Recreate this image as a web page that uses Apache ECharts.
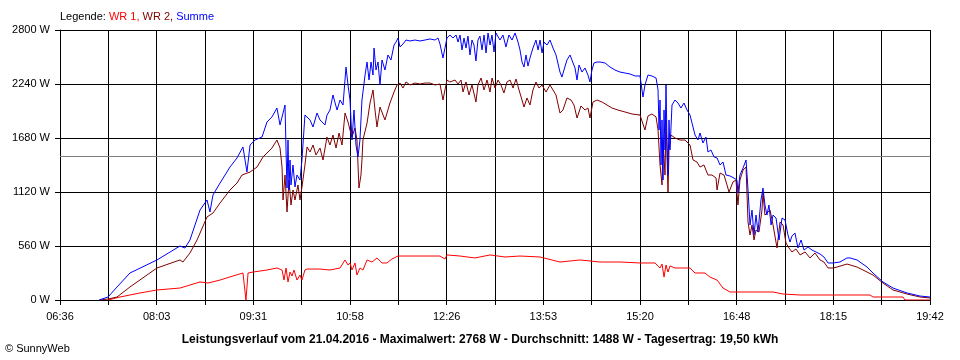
<!DOCTYPE html>
<html>
<head>
<meta charset="utf-8">
<script src="https://cdn.jsdelivr.net/npm/echarts@6/dist/echarts.min.js"></script>
<style>
html,body{margin:0;padding:0;background:#fff;}
#chart{width:960px;height:360px;}
</style>
</head>
<body>
<div id="chart"></div>
<script>
// Time axis: minutes after 06:36 (span 06:36 .. 19:42 = 786 min, 18 grid steps)
var xSpan = 786;
var xSteps = 18;
var xLabels = ['06:36','08:03','09:31','10:58','12:26','13:53','15:20','16:48','18:15','19:42'];
var yMax = 2800;
var yStep = 560;
var average = 1488;

// [minutes after 06:36, W]
var wr1 = [[43.4,0],[54.2,31],[72.3,73],[87.6,104],[108.4,124],[126.5,187],[133.7,176],[144.6,207],[156.3,249],[165.3,280],[167.1,280],[168.0,0],[168.9,0],[169.9,280],[174.4,290],[187.0,311],[196.0,332],[200.6,311],[202.4,207],[204.2,332],[206.0,187],[207.8,290],[209.6,249],[211.4,311],[214.1,207],[216.8,259],[218.6,207],[221.3,311],[223.2,321],[234.9,321],[243.9,311],[253.0,332],[257.5,415],[260.2,363],[262.0,384],[263.8,311],[266.5,384],[268.3,259],[271.0,332],[273.7,311],[277.4,415],[281.9,394],[286.4,436],[290.9,384],[295.4,384],[299.9,425],[305.4,456],[325.2,456],[343.3,456],[347.8,425],[349.6,467],[361.4,456],[374.9,436],[388.5,467],[402.0,446],[415.6,456],[433.7,446],[451.7,394],[469.8,415],[487.9,394],[505.9,394],[524.0,384],[537.6,384],[542.1,332],[543.9,373],[545.7,238],[547.5,363],[549.3,290],[551.1,353],[555.6,332],[569.2,332],[573.7,280],[582.7,280],[587.2,238],[593.6,207],[599.0,124],[605.3,83],[629.7,83],[644.2,83],[653.2,62],[668.6,52],[731.8,52],[734.5,31],[761.6,31],[763.4,0],[786,0]];

var wr2 = [[36.1,0],[43.4,10],[51.5,31],[63.2,135],[87.6,332],[108.4,415],[111.1,394],[117.4,487],[123.8,622],[132.8,861],[138.2,902],[144.6,1006],[153.6,1141],[159.9,1213],[164.4,1296],[171.7,1327],[178.0,1379],[183.4,1483],[187.0,1524],[191.5,1576],[196.0,1659],[198.8,1576],[200.6,1379],[201.5,1037],[203.3,1296],[205.1,913],[206.9,1244],[208.7,985],[210.5,1141],[212.3,1037],[215.0,1193],[216.8,1037],[218.6,1172],[221.3,1400],[223.2,1587],[225.9,1535],[228.6,1607],[231.3,1504],[234.9,1576],[237.6,1452],[241.2,1690],[243.9,1607],[246.6,1711],[249.4,1576],[252.1,1732],[254.8,1607],[257.5,1939],[260.2,1846],[262.0,1763],[263.8,1690],[266.5,1784],[268.3,1659],[270.1,1161],[271.9,1296],[272.8,1452],[273.7,1659],[277.4,1835],[280.1,2043],[282.8,2178],[284.6,1970],[286.4,1794],[289.1,2001],[293.6,1867],[298.1,2043],[301.8,2157],[304.5,2230],[307.2,2250],[309.9,2198],[312.6,2261],[316.2,2230],[320.7,2250],[325.2,2240],[329.8,2250],[334.3,2250],[338.8,2230],[343.3,2240],[346.0,2074],[347.8,2178],[349.6,2281],[352.3,2261],[356.9,2281],[359.6,2240],[362.3,2281],[364.1,2157],[366.8,2261],[369.5,2126],[372.2,2230],[375.8,2053],[377.6,2230],[380.4,2302],[383.1,2178],[385.8,2281],[388.5,2157],[390.3,2302],[393.0,2198],[395.7,2281],[398.4,2230],[401.1,2147],[403.8,2261],[406.6,2281],[409.3,2198],[412.0,2292],[414.7,2178],[417.4,2074],[419.2,2001],[421.9,2095],[424.6,2022],[427.3,2178],[430.0,2261],[432.8,2198],[435.5,2230],[439.1,2157],[442.7,2230],[445.4,2178],[448.1,2126],[451.7,1939],[454.4,1970],[458.0,2095],[461.7,2074],[464.4,2022],[467.1,1887],[470.7,2012],[474.3,1970],[477.0,1991],[478.8,1887],[481.5,2053],[485.2,2074],[489.7,2053],[494.2,2022],[498.7,1991],[504.1,1970],[510.4,1950],[516.8,1929],[524.0,1918],[528.5,1763],[531.2,1908],[534.8,1929],[538.5,1898],[540.3,1763],[542.1,1400],[543.9,1193],[544.8,1659],[546.6,1296],[547.5,1867],[549.3,1120],[550.2,1556],[552.0,1711],[555.6,1680],[560.1,1659],[564.7,1659],[569.2,1607],[571.9,1452],[575.5,1431],[578.2,1379],[581.8,1400],[585.4,1296],[589.0,1296],[592.7,1265],[593.6,1141],[596.3,1317],[599.9,1296],[602.6,1193],[604.4,1120],[608.0,1224],[610.7,1244],[612.5,985],[614.3,1244],[617.1,1348],[619.8,1379],[621.6,809],[623.4,674],[625.2,778],[627.0,622],[628.8,726],[631.5,705],[634.2,933],[635.1,1110],[636.9,881],[638.7,861],[641.5,933],[644.2,778],[647.8,539],[650.5,809],[653.2,778],[655.9,591],[658.6,539],[661.3,498],[664.9,529],[668.6,467],[673.1,498],[677.6,436],[682.1,487],[686.6,415],[690.2,394],[693.9,332],[698.4,332],[702.0,342],[711.0,373],[720.1,342],[729.1,290],[734.5,259],[743.5,176],[752.6,104],[765.2,62],[777.0,31],[786.0,21]];

var summe = [[35.2,0],[43.4,31],[51.5,135],[63.2,280],[87.6,415],[108.4,560],[112.9,539],[117.4,622],[126.5,933],[132.8,1037],[135.5,913],[138.2,1089],[144.6,1213],[153.6,1379],[159.9,1473],[165.3,1587],[168.9,1327],[171.7,1607],[176.2,1659],[182.5,1690],[187.0,1846],[191.5,1898],[196.0,1991],[198.8,1815],[203.3,2022],[204.2,1556],[205.1,1161],[206.0,1659],[206.9,1141],[207.8,1452],[208.7,1193],[210.5,1400],[212.3,1172],[214.1,1296],[216.8,1244],[218.6,1452],[221.3,1918],[225.9,1867],[228.6,1794],[232.2,1939],[234.9,1867],[239.4,1815],[241.2,1918],[243.9,1970],[246.6,2126],[250.3,1970],[253.0,2074],[255.7,2022],[258.4,2416],[260.2,2230],[262.0,2074],[263.8,1659],[265.6,1970],[267.4,1607],[269.2,1483],[271.0,1659],[272.8,2074],[275.6,2333],[277.4,2468],[279.2,2281],[281.0,2468],[282.8,2333],[283.7,2613],[285.5,2385],[287.3,2468],[289.1,2230],[290.9,2489],[293.6,2385],[296.3,2541],[299.0,2489],[301.8,2644],[303.6,2675],[305.4,2717],[307.2,2624],[309.9,2655],[312.6,2696],[316.2,2686],[320.7,2696],[325.2,2686],[329.8,2696],[334.3,2707],[338.8,2696],[341.5,2717],[343.3,2655],[346.0,2510],[347.8,2613],[349.6,2717],[352.3,2748],[355.0,2717],[357.8,2748],[359.6,2675],[361.4,2748],[363.2,2593],[365.0,2717],[366.8,2613],[368.6,2737],[370.4,2541],[372.2,2696],[374.0,2644],[375.8,2479],[377.6,2696],[379.4,2737],[381.3,2593],[383.1,2748],[384.9,2562],[386.7,2769],[388.5,2644],[390.3,2748],[392.1,2572],[393.9,2769],[397.5,2696],[400.2,2748],[402.9,2624],[405.6,2748],[408.4,2696],[411.1,2769],[413.8,2675],[415.6,2593],[417.4,2468],[419.2,2416],[421.0,2541],[422.8,2426],[424.6,2510],[427.3,2613],[430.0,2696],[431.9,2593],[433.7,2696],[435.5,2562],[437.3,2675],[440.0,2644],[442.7,2696],[445.4,2613],[448.1,2541],[451.7,2364],[453.5,2312],[455.3,2385],[458.0,2489],[460.8,2541],[463.5,2458],[465.3,2406],[467.1,2281],[468.9,2437],[471.6,2364],[474.3,2406],[477.0,2333],[478.8,2261],[480.6,2385],[482.4,2458],[485.2,2468],[487.9,2468],[492.4,2458],[496.9,2416],[501.4,2385],[505.9,2364],[510.4,2354],[515.0,2344],[519.5,2323],[524.0,2323],[526.7,2105],[528.5,2230],[531.2,2333],[534.8,2323],[538.5,2302],[540.3,2178],[541.2,1763],[542.1,2074],[543.0,1400],[543.9,1867],[544.8,1244],[545.7,1970],[546.6,1556],[547.5,2230],[548.4,1659],[549.3,1296],[550.2,1867],[551.1,1556],[552.9,2022],[555.6,2074],[558.3,2043],[561.0,1991],[563.7,2043],[566.5,1970],[569.2,1918],[571.0,1835],[573.7,1711],[576.4,1659],[578.2,1732],[580.9,1628],[583.6,1690],[585.4,1535],[588.1,1556],[590.9,1483],[593.6,1473],[596.3,1400],[599.0,1431],[601.7,1296],[605.3,1286],[608.9,1265],[611.6,1244],[612.5,1110],[614.3,1296],[617.1,1369],[619.8,1452],[621.6,1141],[623.4,778],[625.2,933],[627.0,674],[628.8,881],[630.6,705],[633.3,1037],[635.1,1161],[636.9,985],[638.7,881],[640.5,985],[642.4,778],[644.2,881],[646.9,850],[649.6,622],[652.3,850],[655.0,830],[657.7,674],[659.5,601],[661.3,664],[664.0,695],[666.7,539],[669.5,622],[672.2,518],[675.8,550],[679.4,518],[683.0,498],[686.6,477],[690.2,446],[693.9,384],[698.4,384],[704.7,394],[711.0,436],[713.7,436],[720.1,415],[729.1,342],[734.5,280],[743.5,187],[752.6,124],[765.2,73],[777.0,41],[786.0,31]];

var FONT = '"Liberation Sans", Arial, sans-serif';
var chart = echarts.init(document.getElementById('chart'), null, {renderer:'canvas'});
var xInterval = xSpan / xSteps;

function lineSeries(name, data, color, z) {
  return {
    name: name, type: 'line', data: data, showSymbol: false, symbol: 'none',
    animation: false, z: z,
    lineStyle: {color: color, width: 1},
    itemStyle: {color: color}
  };
}

var sumSeries = lineSeries('Summe', summe, '#0000ff', 4);
sumSeries.markLine = {
  silent: true, symbol: 'none', animation: false, z: 1,
  label: {show: false},
  lineStyle: {color: '#808080', type: 'solid', width: 1},
  data: [{yAxis: average}]
};

chart.setOption({
  backgroundColor: '#ffffff',
  animation: false,
  grid: {left: 60, top: 30, width: 870, height: 270, containLabel: false},
  xAxis: {
    type: 'value', min: 0, max: xSpan, interval: xInterval,
    axisLine: {show: true, lineStyle: {color: '#000', width: 1}},
    axisTick: {show: true, length: 5, lineStyle: {color: '#000', width: 1}},
    splitLine: {show: true, lineStyle: {color: '#000', width: 1}},
    axisLabel: {
      color: '#000', fontSize: 11, fontFamily: FONT, margin: 11,
      formatter: function (v) {
        var i = Math.round(v / xInterval);
        return i % 2 === 0 ? (xLabels[i / 2] || '') : '';
      }
    }
  },
  yAxis: {
    type: 'value', min: 0, max: yMax, interval: yStep,
    axisLine: {show: true, lineStyle: {color: '#000', width: 1}},
    axisTick: {show: true, length: 5, lineStyle: {color: '#000', width: 1}},
    splitLine: {show: true, lineStyle: {color: '#000', width: 1}},
    axisLabel: {color: '#000', fontSize: 11, fontFamily: FONT, margin: 10,
      formatter: function (v) { return Math.round(v) + ' W'; }}
  },
  title: {
    text: 'Leistungsverlauf vom 21.04.2016 - Maximalwert: 2768 W - Durchschnitt: 1488 W - Tagesertrag: 19,50 kWh',
    left: 'center', top: 329,
    textStyle: {color: '#000', fontSize: 12, fontWeight: 'bold', fontFamily: FONT}
  },
  graphic: [
    {
      type: 'text', left: 60, top: 11,
      style: {
        text: '{k|Legende: }{a|WR 1, }{b|WR 2, }{c|Summe}',
        font: '11px ' + FONT,
        rich: {
          k: {fill: '#000', font: '11px ' + FONT},
          a: {fill: '#ff0000', font: '11px ' + FONT},
          b: {fill: '#800000', font: '11px ' + FONT},
          c: {fill: '#0000ff', font: '11px ' + FONT}
        }
      }
    },
    {
      type: 'text', left: 5, top: 343,
      style: {text: '\u00A9 SunnyWeb', fill: '#000', font: '11px ' + FONT}
    }
  ],
  series: [
    lineSeries('WR 1', wr1, '#ff0000', 2),
    lineSeries('WR 2', wr2, '#800000', 3),
    sumSeries
  ]
});
</script>
</body>
</html>
